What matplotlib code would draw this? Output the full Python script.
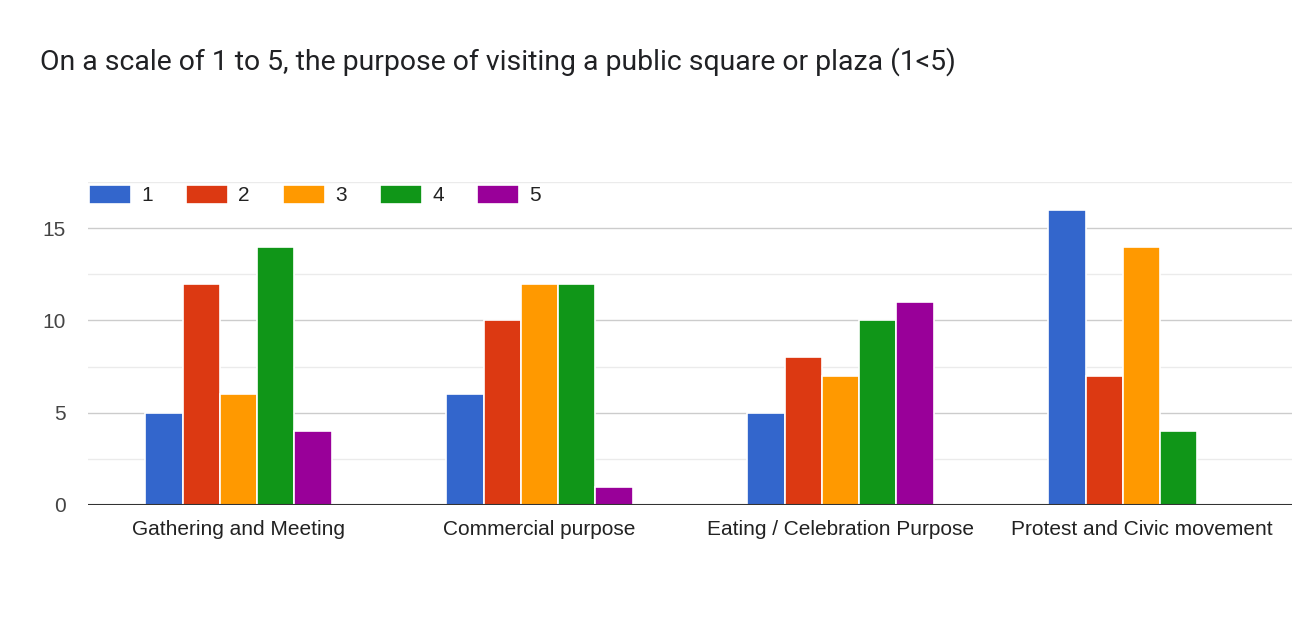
import numpy as np
import matplotlib
matplotlib.use("Agg")
import matplotlib.pyplot as plt
from matplotlib.ticker import MultipleLocator

categories = ["Gathering and Meeting", "Commercial purpose",
              "Eating / Celebration Purpose", "Protest and Civic movement"]
series_names = ["1", "2", "3", "4", "5"]
score_1 = [5, 6, 5, 16]
score_2 = [12, 10, 8, 7]
score_3 = [6, 12, 7, 14]
score_4 = [14, 12, 10, 4]
score_5 = [4, 1, 11, 0]
colors = ["#3366cc", "#dc3912", "#ff9900", "#109618", "#990099"]

series = [score_1, score_2, score_3, score_4, score_5]

fig = plt.figure(figsize=(13.01, 6.36), dpi=100)
ax = fig.add_axes([88 / 1301, 1 - 505 / 636, 1204 / 1301, 323 / 636])

x = np.arange(len(categories))
bw = 0.124
for i, (name, vals, c) in enumerate(zip(series_names, series, colors)):
    ax.bar(x + (i - 2) * bw, vals, width=bw, color=c, edgecolor="white",
           linewidth=1.2, label=name, zorder=3)

ax.set_xlim(-0.5, len(categories) - 0.5)
ax.set_ylim(0, 17.5)
ax.yaxis.set_major_locator(MultipleLocator(5))
ax.yaxis.set_minor_locator(MultipleLocator(2.5))
ax.grid(axis="y", which="major", color="#cccccc", linewidth=1, zorder=0)
ax.grid(axis="y", which="minor", color="#ebebeb", linewidth=1, zorder=0)
ax.axhline(0, color="#333333", linewidth=1.5, zorder=4)

for s in ax.spines.values():
    s.set_visible(False)
ax.tick_params(axis="both", which="both", length=0)
ax.tick_params(axis="y", pad=16, labelsize=15, labelcolor="#444444")
ax.tick_params(axis="x", pad=11, labelsize=15, labelcolor="#222222")
for lab in ax.get_yticklabels() + ax.get_xticklabels():
    lab.set_fontfamily("Liberation Sans")
ax.set_xticks(x)
ax.set_xticklabels(categories)

leg = fig.legend(loc="upper left", bbox_to_anchor=(89 / 1301, 1 - 185 / 636),
                 ncol=5, frameon=False, handlelength=2.0, handleheight=1.0,
                 handletextpad=0.5, columnspacing=1.6,
                 prop={"family": "Liberation Sans", "size": 15},
                 borderpad=0, borderaxespad=0)
for t in leg.get_texts():
    t.set_color("#222222")

fig.text(40 / 1301, 1 - 62 / 636,
         "On a scale of 1 to 5, the purpose of visiting a public square or plaza (1<5)",
         fontsize=20.4, family="Roboto", color="#202124", va="center", ha="left")

fig.savefig("out.png", dpi=100)
